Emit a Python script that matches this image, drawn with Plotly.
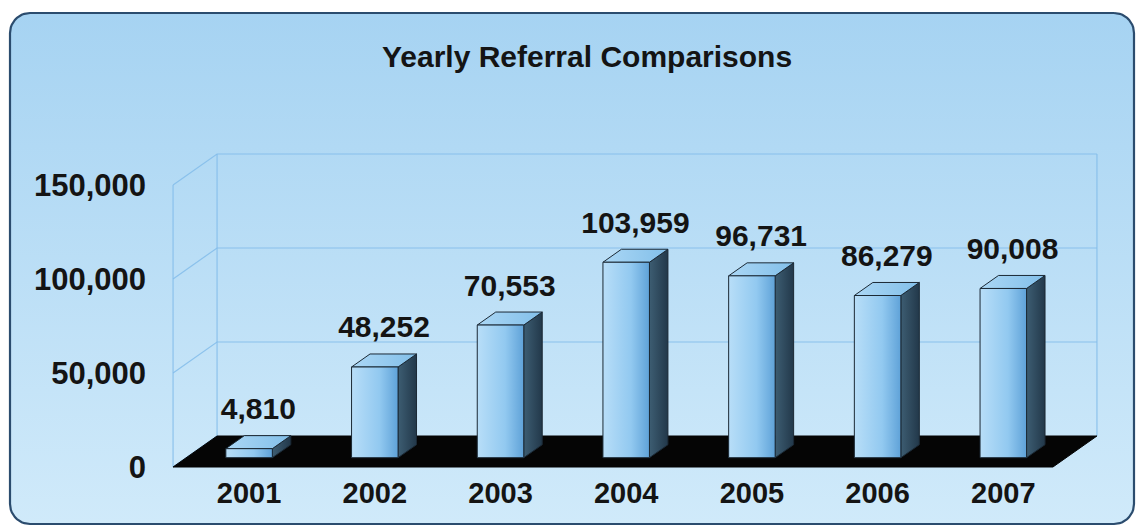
import numpy as np
import plotly.graph_objects as go

# ---------------- data ----------------
years = ["2001", "2002", "2003", "2004", "2005", "2006", "2007"]
referrals = [4810, 48252, 70553, 103959, 96731, 86279, 90008]
y_ticks = [0, 50000, 100000, 150000]
title_text = "Yearly Referral Comparisons"

# ---------------- geometry / style ----------------
W, H = 1138, 528
X0_PX, CAT_PX = 235.9, 125.7        # pixel of category 0 on the front plane, px per category
Y0_PX, PX_PER_UNIT = 467.0, 0.00188  # pixel of value 0 on the front plane, px per value unit
x_range = [(0 - X0_PX) / CAT_PX, (W - X0_PX) / CAT_PX]
y_range = [(Y0_PX - H) / PX_PER_UNIT, Y0_PX / PX_PER_UNIT]

DEPTH_X = 44 / CAT_PX        # full-depth shift in category units
DEPTH_Y = 31 / PX_PER_UNIT   # full-depth shift in value units
BAR_W = 0.37
D_FRONT, D_BACK = 0.30, 0.72
Y_MAX = y_ticks[-1]
U_LEFT, U_RIGHT = -0.5, len(years) - 0.5


def P(u, v, d):
    return u + d * DEPTH_X, v + d * DEPTH_Y


def poly(points):
    xs = [p[0] for p in points] + [points[0][0]]
    ys = [p[1] for p in points] + [points[0][1]]
    return xs, ys


FONT = "Liberation Sans, Arial, sans-serif"
GRID = "rgba(130,188,234,0.85)"
OUTLINE = "#1b2935"
TEXT = "#141414"

fig = go.Figure()

# ---------------- background (pixel axes) ----------------
def rounded_rect(x0, y0, x1, y1, r, n=12):
    pts = []
    for cx, cy, a0 in [(x1 - r, y0 + r, -90), (x1 - r, y1 - r, 0),
                       (x0 + r, y1 - r, 90), (x0 + r, y0 + r, 180)]:
        for a in np.linspace(a0, a0 + 90, n):
            t = np.radians(a)
            pts.append((cx + r * np.cos(t), cy + r * np.sin(t)))
    return poly(pts)

bx, by = rounded_rect(10, 13, 1134, 524, 20)
fig.add_trace(go.Scatter(
    x=bx, y=by, xaxis="x", yaxis="y", mode="lines", fill="toself",
    line=dict(color="#2b4c6e", width=2.2),
    fillgradient=dict(type="vertical",
                      colorscale=[[0, "rgb(208,234,250)"], [1, "rgb(166,211,242)"]]),
    hoverinfo="skip", showlegend=False))

# ---------------- walls & grid (data axes) ----------------
def add_line(points, color=GRID, width=1.2):
    xs = [p[0] for p in points]
    ys = [p[1] for p in points]
    fig.add_trace(go.Scatter(x=xs, y=ys, xaxis="x2", yaxis="y2", mode="lines",
                             line=dict(color=color, width=width),
                             hoverinfo="skip", showlegend=False))

for v in y_ticks:
    pts = [P(U_LEFT, v, 0), P(U_LEFT, v, 1)]
    if v > 0:
        pts.append(P(U_RIGHT, v, 1))
    add_line(pts)
add_line([P(U_LEFT, 0, 0), P(U_LEFT, Y_MAX, 0)])
add_line([P(U_LEFT, 0, 1), P(U_LEFT, Y_MAX, 1)])
add_line([P(U_RIGHT, 0, 1), P(U_RIGHT, Y_MAX, 1)])

# floor
fx, fy = poly([P(U_LEFT, 0, 0), P(U_RIGHT, 0, 0), P(U_RIGHT, 0, 1), P(U_LEFT, 0, 1)])
fig.add_trace(go.Scatter(x=fx, y=fy, xaxis="x2", yaxis="y2", mode="lines", fill="toself",
                         fillcolor="#050505", line=dict(color="#050505", width=1),
                         hoverinfo="skip", showlegend=False))

# ---------------- bars ----------------
def add_face(points, scale, gtype="horizontal"):
    xs, ys = poly(points)
    fig.add_trace(go.Scatter(x=xs, y=ys, xaxis="x2", yaxis="y2", mode="lines", fill="toself",
                             line=dict(color=OUTLINE, width=1),
                             fillgradient=dict(type=gtype, colorscale=scale),
                             hoverinfo="skip", showlegend=False))

FRONT = [[0, "#b8def8"], [0.6, "#92c9f0"], [1, "#5fa2d8"]]
SIDE = [[0, "#3d5d72"], [1, "#22384a"]]
TOP = [[0, "#abd7f5"], [1, "#82bfe9"]]

for i, v in enumerate(referrals):
    u0, u1 = i - BAR_W / 2, i + BAR_W / 2
    add_face([P(u1, 0, D_FRONT), P(u1, 0, D_BACK), P(u1, v, D_BACK), P(u1, v, D_FRONT)], SIDE)
    add_face([P(u0, v, D_FRONT), P(u1, v, D_FRONT), P(u1, v, D_BACK), P(u0, v, D_BACK)], TOP)
    add_face([P(u0, 0, D_FRONT), P(u1, 0, D_FRONT), P(u1, v, D_FRONT), P(u0, v, D_FRONT)], FRONT)

# value labels
d_mid = (D_FRONT + D_BACK) / 2
lab_x = [P(i, v, d_mid)[0] for i, v in enumerate(referrals)]
lab_y = [P(i, v, D_BACK)[1] + 9 / PX_PER_UNIT for i, v in enumerate(referrals)]
fig.add_trace(go.Scatter(x=lab_x, y=lab_y, xaxis="x2", yaxis="y2", mode="text",
                         text=[f"{v:,}" for v in referrals], textposition="top center",
                         textfont=dict(family=FONT, size=30, color=TEXT, weight="bold"),
                         hoverinfo="skip", showlegend=False))

fig.update_layout(
    width=W, height=H, margin=dict(l=0, r=0, t=0, b=0),
    paper_bgcolor="white", plot_bgcolor="rgba(0,0,0,0)",
    showlegend=False,
    title=dict(text=title_text, x=587 / W, y=1 - 56 / H, xanchor="center", yanchor="middle",
               font=dict(family=FONT, size=30, color=TEXT, weight="bold")),
    xaxis=dict(range=[0, W], visible=False, domain=[0, 1], fixedrange=True),
    yaxis=dict(range=[H, 0], visible=False, domain=[0, 1], fixedrange=True),
    xaxis2=dict(range=x_range, overlaying="x", anchor="free", position=(H - Y0_PX) / H,
                tickvals=[i + D_FRONT * DEPTH_X for i in range(len(years))], ticktext=years,
                showgrid=False, zeroline=False, showline=False, ticks="",
                ticklabelstandoff=6,
                tickfont=dict(family=FONT, size=29, color=TEXT, weight="bold")),
    yaxis2=dict(range=y_range, overlaying="y", anchor="free", position=173 / W,
                tickvals=y_ticks, tickformat=",d",
                showgrid=False, zeroline=False, showline=False, ticks="",
                ticklabelstandoff=27,
                tickfont=dict(family=FONT, size=31, color=TEXT, weight="bold")),
)

fig.write_html("out.html")
